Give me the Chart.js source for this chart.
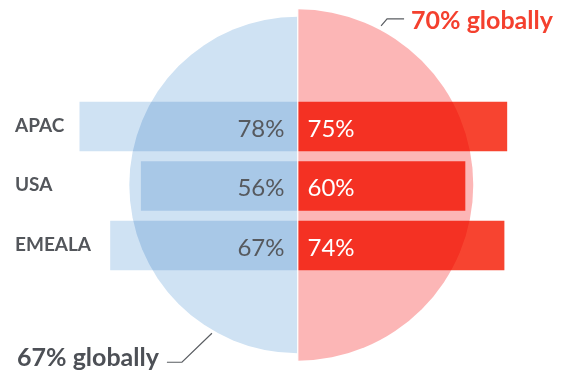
<!DOCTYPE html>
<html>
<head>
<meta charset="utf-8">
<script src="https://cdn.jsdelivr.net/npm/chart.js@4/dist/chart.umd.min.js"></script>
<style>
  html, body { margin: 0; padding: 0; background: #fff; }
  #wrap { width: 561px; height: 376px; position: relative; }
</style>
</head>
<body>
<div id="wrap"><canvas id="chart"></canvas></div>
<script>
// regions and survey shares (%)
const regions = ["APAC", "USA", "EMEALA"];
const blueValues = [78, 56, 67];
const redValues = [75, 60, 74];
const blueGlobal = 67;
const redGlobal = 70;

const BLUE = "#cfe2f3";
const BLUE_TEXT = "#56595e";
const RED = "#f74430";
const PINK = "#fcb6b6";
const RED_TEXT = "#f4402e";
const DARK = "#4d5056";
const FONT = "Lato, 'Open Sans', sans-serif";

// half discs behind the bars, radius taken from the hidden "yr" scale
const halvesPlugin = {
  id: "halves",
  beforeDatasetsDraw(chart) {
    const ctx = chart.ctx;
    const x = chart.scales.x, yr = chart.scales.yr, y = chart.scales.y;
    const cx = x.getPixelForValue(0);
    const cy = (y.top + y.bottom) / 2 - 1;
    const rB = yr.getPixelForValue(0) - yr.getPixelForValue(blueGlobal);
    const rR = yr.getPixelForValue(0) - yr.getPixelForValue(redGlobal);

    ctx.save();
    ctx.fillStyle = BLUE;
    ctx.beginPath();
    ctx.moveTo(cx, cy);
    ctx.arc(cx, cy, rB, Math.PI / 2, Math.PI * 1.5);
    ctx.closePath();
    ctx.fill();

    ctx.fillStyle = PINK;
    ctx.beginPath();
    ctx.moveTo(cx, cy);
    ctx.arc(cx, cy, rR, -Math.PI / 2, Math.PI / 2);
    ctx.closePath();
    ctx.fill();
    ctx.restore();

    // bars multiply over the discs
    ctx.globalCompositeOperation = "multiply";
  },
  afterDatasetsDraw(chart) {
    const ctx = chart.ctx;
    ctx.globalCompositeOperation = "source-over";
    const x = chart.scales.x, yr = chart.scales.yr, y = chart.scales.y;
    const cx = x.getPixelForValue(0);
    const cy = (y.top + y.bottom) / 2 - 1;
    const rB = yr.getPixelForValue(0) - yr.getPixelForValue(blueGlobal);
    const rR = yr.getPixelForValue(0) - yr.getPixelForValue(redGlobal);

    ctx.save();
    // white split down the middle
    ctx.strokeStyle = "#fff";
    ctx.lineWidth = 1.3;
    ctx.beginPath();
    ctx.moveTo(cx + 0.2, cy - rR - 1);
    ctx.lineTo(cx + 0.2, cy + rR + 1);
    ctx.stroke();

    // value labels
    ctx.font = "24px " + FONT;
    ctx.textBaseline = "alphabetic";
    chart.getDatasetMeta(0).data.forEach((bar, i) => {
      ctx.fillStyle = BLUE_TEXT;
      ctx.textAlign = "right";
      ctx.fillText(blueValues[i] + "%", cx - 13, bar.y + 10);
    });
    chart.getDatasetMeta(1).data.forEach((bar, i) => {
      ctx.fillStyle = "#fff";
      ctx.textAlign = "left";
      ctx.fillText(redValues[i] + "%", cx + 10, bar.y + 10);
    });

    // region names
    ctx.font = "bold 19px " + FONT;
    ctx.fillStyle = "#53565b";
    ctx.textAlign = "left";
    regions.forEach((name, i) => {
      ctx.fillText(name, 15, y.getPixelForValue(i) + 5);
    });

    // global callouts with leader lines
    ctx.strokeStyle = "#5a5d62";
    ctx.lineWidth = 1.2;
    const aR = -62.3 * Math.PI / 180;
    const sx = cx + (rR + 4) * Math.cos(aR), sy = cy + (rR + 4) * Math.sin(aR);
    ctx.beginPath();
    ctx.moveTo(sx, sy);
    ctx.lineTo(sx + 6, sy - 7);
    ctx.lineTo(sx + 23, sy - 7);
    ctx.stroke();
    ctx.font = "bold 25px " + FONT;
    ctx.fillStyle = RED_TEXT;
    ctx.textAlign = "left";
    ctx.fillText(redGlobal + "% globally", sx + 30, sy + 3.5);

    const aB = 120 * Math.PI / 180;
    const bx = cx + (rB + 3) * Math.cos(aB), by = cy + (rB + 3) * Math.sin(aB);
    ctx.beginPath();
    ctx.moveTo(bx, by);
    ctx.lineTo(bx - 30, by + 29);
    ctx.lineTo(bx - 45, by + 29);
    ctx.stroke();
    ctx.fillStyle = DARK;
    ctx.textAlign = "right";
    ctx.fillText(blueGlobal + "% globally", bx - 53, by + 33);
    ctx.restore();
  }
};

new Chart(document.getElementById("chart"), {
  type: "bar",
  data: {
    labels: regions,
    datasets: [
      { data: blueValues.map(v => -v), backgroundColor: BLUE, borderWidth: 0, barThickness: 49 },
      { data: redValues, backgroundColor: RED, borderWidth: 0, barThickness: 49 }
    ]
  },
  options: {
    indexAxis: "y",
    responsive: true,
    maintainAspectRatio: false,
    animation: false,
    layout: { padding: { top: 96.75, bottom: 100.75, left: 0, right: 0 } },
    plugins: { legend: { display: false }, tooltip: { enabled: false } },
    scales: {
      x: { type: "linear", min: -106.6, max: 94.4, stacked: true, display: false },
      y: { type: "category", stacked: true, display: false },
      // hidden scale used only to size the half discs
      yr: { axis: "y", type: "linear", min: 0, max: 71.1, offset: false, display: false }
    }
  },
  plugins: [halvesPlugin]
});
</script>
</body>
</html>
